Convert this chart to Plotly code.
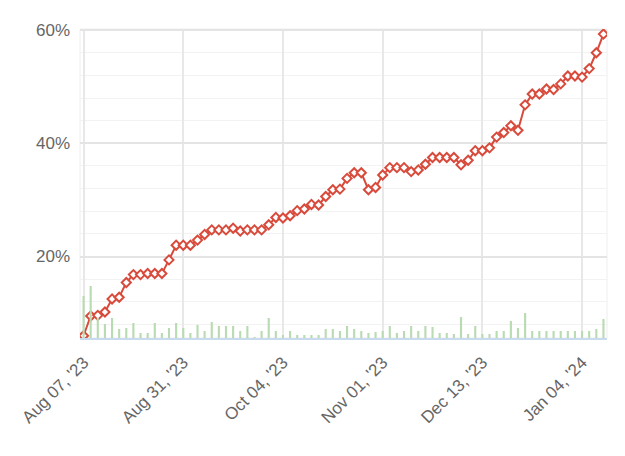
import plotly.graph_objects as go

# Line series (percent), one value per observation
pct = [6.0, 9.5, 9.6, 10.2, 12.5, 12.8, 15.4, 16.8, 16.8, 17.0,
       17.0, 17.0, 19.4, 22.0, 22.0, 22.0, 22.9, 23.9, 24.7, 24.7,
       24.7, 25.0, 24.5, 24.7, 24.7, 24.7, 25.6, 26.9, 26.8, 27.2,
       28.1, 28.4, 29.2, 29.1, 30.6, 31.8, 31.9, 33.8, 34.8, 34.8,
       31.8, 32.2, 34.4, 35.7, 35.7, 35.7, 35.0, 35.3, 36.3, 37.5,
       37.5, 37.5, 37.5, 36.2, 37.0, 38.7, 38.7, 39.2, 41.1, 41.9,
       43.1, 42.3, 46.8, 48.7, 48.7, 49.6, 49.5, 50.5, 51.9, 51.9,
       51.7, 53.2, 56.0, 59.3]

# Bar series (relative volume)
vol = [42, 52, 20, 14, 20, 9, 10, 15, 5, 5,
       15, 5, 10, 15, 10, 5, 13, 7, 16, 12,
       12, 12, 7, 12, 1, 7, 20, 7, 3, 7,
       3, 3, 3, 3, 9, 9, 7, 12, 9, 7,
       5, 6, 7, 12, 5, 7, 12, 7, 12, 11,
       5, 5, 4, 21, 4, 12, 4, 4, 7, 7,
       17, 10, 25, 7, 7, 7, 7, 7, 7, 7,
       7, 7, 9, 19]

tick_idx = [0, 14, 28, 42, 56, 70]
tick_labels = ["Aug 07, '23", "Aug 31, '23", "Oct 04, '23",
               "Nov 01, '23", "Dec 13, '23", "Jan 04, '24"]
y_ticks = [20, 40, 60]
y_tick_labels = ["20%", "40%", "60%"]

x = list(range(len(pct)))
RED = "#d84b3c"
FONT = "Liberation Sans, Arial, sans-serif"

fig = go.Figure()
fig.add_trace(go.Bar(x=x, y=vol, yaxis="y2", width=0.3,
                     marker=dict(color="#b9dbb2", line=dict(width=0)),
                     hoverinfo="skip"))
fig.add_trace(go.Scatter(x=x, y=pct, mode="lines+markers",
                         line=dict(color=RED, width=2),
                         marker=dict(symbol="diamond", size=7, color="white",
                                     line=dict(color=RED, width=2))))

fig.update_layout(
    width=625, height=456,
    margin=dict(l=80, r=18, t=29, b=118),
    paper_bgcolor="white", plot_bgcolor="white",
    showlegend=False,
    font=dict(family=FONT, size=17, color="#666666"),
    xaxis=dict(range=[-0.5, len(pct) - 0.5], tickmode="array",
               tickvals=tick_idx, ticktext=tick_labels, tickangle=-45,
               showgrid=True, gridcolor="#e8e8e8", gridwidth=2,
               showline=True, linecolor="#c8dbee", linewidth=2,
               ticks="outside", ticklen=6, tickcolor="rgba(0,0,0,0)",
               zeroline=False,
               tickfont=dict(size=17, color="#666666")),
    yaxis=dict(range=[5.6, 60.2], tickmode="array", tickvals=y_ticks,
               ticktext=y_tick_labels, showgrid=True, gridcolor="#e4e4e4", gridwidth=2,
               zeroline=False, ticks="", ticklabelstandoff=9,
               minor=dict(tickmode="linear", tick0=0, dtick=4, showgrid=True,
                          gridcolor="#f2f2f2", gridwidth=1),
               tickfont=dict(size=17, color="#666666")),
    yaxis2=dict(overlaying="y", range=[0, 309], showgrid=False,
                showticklabels=False, zeroline=False, visible=False),
    shapes=[dict(type="rect", xref="paper", yref="paper", x0=0, x1=1, y0=0, y1=1,
                 line=dict(color="#eeeeee", width=1), layer="below")],
)

fig.write_html("out.html")
